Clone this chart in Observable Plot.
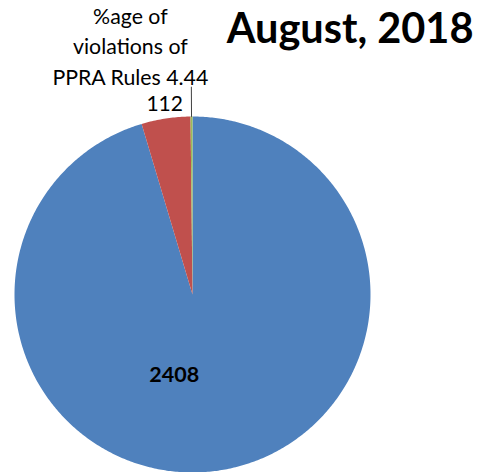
<!DOCTYPE html>
<html>
<head>
<meta charset="utf-8">
<script src="https://cdn.jsdelivr.net/npm/d3@7"></script>
<script src="https://cdn.jsdelivr.net/npm/@observablehq/plot@0.6"></script>
<style>
  html, body { margin: 0; padding: 0; background: #fff; }
  #chart svg { display: block; }
</style>
</head>
<body>
<div id="chart"></div>
<script>
// ---- data ----
const categories = ["Count", "Violations", "%age of violations of PPRA Rules"];
const values = [2408, 112, 4.44];
const labels = ["2408", "112", "%age of\nviolations of\nPPRA Rules 4.44"];
const colors = ["#4F81BD", "#C0504D", "#9BBB59"];
const title = "August, 2018";

// ---- pie geometry (unit circle, angles clockwise from 12 o'clock) ----
const arcs = d3.pie().sort(null).value(d => d.value)(
  categories.map((c, i) => ({category: c, value: values[i], label: labels[i], color: colors[i]}))
);
const polys = [];
arcs.forEach(a => {
  const n = Math.max(2, Math.ceil((a.endAngle - a.startAngle) / 0.01));
  polys.push({cat: a.data.category, x: 0, y: 0});
  for (let k = 0; k <= n; k++) {
    const t = a.startAngle + (a.endAngle - a.startAngle) * k / n;
    polys.push({cat: a.data.category, x: Math.sin(t), y: Math.cos(t)});
  }
  polys.push({cat: a.data.category, x: 0, y: 0});
});
const mid = a => (a.startAngle + a.endAngle) / 2;
const at = (a, r) => ({x: Math.sin(mid(a)) * r, y: Math.cos(mid(a)) * r});

const inLabel = [{...at(arcs[0], 0.455), text: arcs[0].data.label}];
const redLabel = [{...at(arcs[1], 1.08), text: arcs[1].data.label}];
const leader = [at(arcs[2], 1.0), at(arcs[2], 1.165)];
const greenLabel = [{...at(arcs[2], 1.165), text: arcs[2].data.label}];

const W = 481, H = 472, cx = 192, cy = 294, R = 178;
const font = "Lato, 'Open Sans', sans-serif";

const chart = Plot.plot({
  width: W, height: H,
  margin: 0,
  style: {fontFamily: font, background: "#fff", overflow: "visible"},
  x: {domain: [-cx / R, (W - cx) / R], axis: null},
  y: {domain: [-(H - cy) / R, cy / R], axis: null},
  color: {domain: categories, range: colors},
  marks: [
    Plot.line(polys, {x: "x", y: "y", z: "cat", fill: "cat", stroke: "none", curve: "linear"}),
    Plot.line(leader, {x: "x", y: "y", stroke: "#404040", strokeWidth: 1}),
    Plot.text(inLabel, {x: "x", y: "y", text: "text", dx: -30, fontSize: 21.5, fontWeight: "bold", fill: "#000"}),
    Plot.text(redLabel, {x: "x", y: "y", text: "text", dx: 1, fontSize: 21, fill: "#000"}),
    Plot.text(greenLabel, {x: "x", y: "y", text: "text", dx: -61, dy: -2, lineAnchor: "bottom", lineHeight: 1.44, fontSize: 21.3, fill: "#000"}),
    Plot.text([title], {frameAnchor: "top-right", text: d => d, dx: -8, dy: 13, lineAnchor: "top", fontSize: 41.5, fontWeight: "bold", fill: "#000"})
  ]
});
document.getElementById("chart").append(chart);
</script>
</body>
</html>
